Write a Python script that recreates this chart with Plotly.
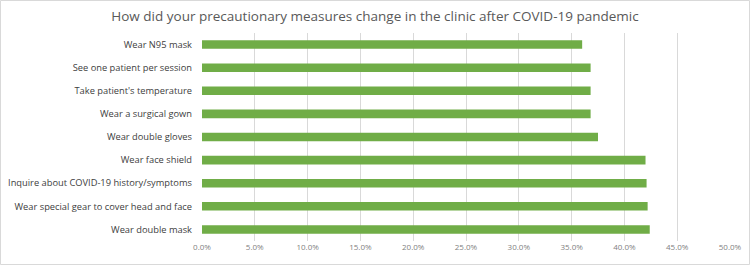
import plotly.graph_objects as go

categories = [
    "Wear double mask",
    "Wear special gear to cover head and face",
    "Inquire about COVID-19 history/symptoms",
    "Wear face shield",
    "Wear double gloves",
    "Wear a surgical gown",
    "Take patient's temperature",
    "See one patient per session",
    "Wear N95 mask",
]
values = [42.4, 42.2, 42.1, 42.0, 37.5, 36.8, 36.8, 36.8, 36.0]
tick_vals = [0, 5, 10, 15, 20, 25, 30, 35, 40, 45, 50]
tick_text = ["0.0%", "5.0%", "10.0%", "15.0%", "20.0%", "25.0%",
             "30.0%", "35.0%", "40.0%", "45.0%", "50.0%"]
title_text = "How did your precautionary measures change in the clinic after COVID-19 pandemic"

W, H = 750, 265
L, R, T, B = 202, 20, 33, 24
pw, ph = W - L - R, H - T - B

fig = go.Figure(go.Bar(
    x=values, y=categories, orientation="h",
    marker=dict(color="#70AD47", line=dict(width=0)),
    width=0.37,
))

fig.update_layout(
    width=W, height=H,
    margin=dict(l=L, r=R, t=T, b=B, autoexpand=False),
    paper_bgcolor="white", plot_bgcolor="white",
    font=dict(family="Open Sans", color="#404040"),
    title=dict(text=title_text, x=0.5, xref="container", xanchor="center",
               y=1 - 16 / H, yref="container", yanchor="middle",
               font=dict(size=13.5, color="#595959")),
    xaxis=dict(range=[0, 50], tickvals=tick_vals, ticktext=tick_text,
               showgrid=True, gridcolor="#D9D9D9", gridwidth=1,
               zeroline=False, showline=False, ticks="", automargin=False,
               tickfont=dict(size=8, color="#7F7F7F")),
    yaxis=dict(showgrid=False, zeroline=False, showline=False, ticks="",
               ticklabelstandoff=9, automargin=False,
               tickfont=dict(size=9.3, color="#404040")),
    showlegend=False,
    shapes=[dict(type="rect", xref="paper", yref="paper",
                 x0=(0.5 - L) / pw, x1=(W - 0.5 - L) / pw,
                 y0=(H - B - (H - 0.5)) / ph, y1=(H - B - 0.5) / ph,
                 line=dict(color="#D9D9D9", width=1), layer="below")],
)

fig.write_html(
    "out.html",
    config={"displayModeBar": False},
    post_script="document.body.style.margin='0';document.body.style.padding='0';",
)
